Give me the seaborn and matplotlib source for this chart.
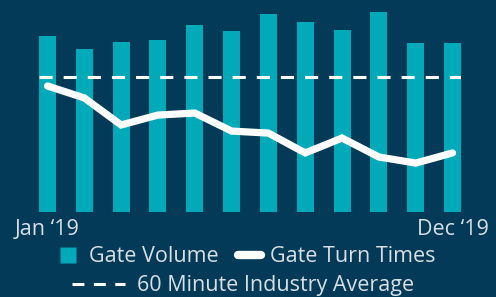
import matplotlib
matplotlib.use("Agg")
import matplotlib.pyplot as plt
from matplotlib.lines import Line2D
import seaborn as sns
import pandas as pd

months = ["Jan", "Feb", "Mar", "Apr", "May", "Jun",
          "Jul", "Aug", "Sep", "Oct", "Nov", "Dec"]
gate_volume = [78.1, 72.3, 75.4, 76.3, 82.9, 80.3, 87.8, 84.3, 80.7, 88.7, 75.0, 75.0]
gate_turn_times = [55.9, 50.6, 38.6, 43.0, 43.9, 35.9, 35.0, 26.2, 32.8, 24.4, 21.7, 26.2]
industry_average = 60
tick_labels = ["Jan \u201819", "Dec \u201819"]

BG = "#023a57"
BAR = "#00aab8"
TXT = "#d8e0e5"
FS = 15.5

sns.set_theme(style="white")
plt.rcParams["font.family"] = ["Open Sans", "DejaVu Sans"]

df = pd.DataFrame({"month": months, "volume": gate_volume, "turn": gate_turn_times})

fig = plt.figure(figsize=(4.96, 2.97), dpi=100)
fig.patch.set_facecolor(BG)
ax = fig.add_axes([39 / 496, 85 / 297, 422 / 496, 202 / 297])
ax.set_facecolor(BG)

sns.barplot(data=df, x="month", y="volume", color=BAR, width=0.46,
            saturation=1, ax=ax, zorder=1, edgecolor="none", linewidth=0)
xs = list(range(len(months)))
sns.lineplot(x=xs, y=gate_turn_times, color="white", linewidth=5.2,
             ax=ax, zorder=3, solid_capstyle="round", solid_joinstyle="miter")
ax.axhline(industry_average, color="white", linewidth=2.2,
           dashes=(4.3, 3.6), zorder=2)

ax.set_xlim(-0.23, 11.23)
ax.set_ylim(0, 89.6)
for s in ax.spines.values():
    s.set_visible(False)
ax.set_yticks([])
ax.set_xticks([0, 11])
ax.set_xticklabels(tick_labels, color=TXT, fontsize=FS)
ax.tick_params(axis="x", length=0, pad=5)
ax.set_xlabel("")
ax.set_ylabel("")

h1 = [Line2D([], [], linestyle="none", marker="s", markersize=12.2,
             markerfacecolor=BAR, markeredgecolor="none"),
      Line2D([], [], color="white", linewidth=6, solid_capstyle="round")]
leg1 = fig.legend(h1, ["Gate Volume", "Gate Turn Times"], ncol=2,
                  loc="center", bbox_to_anchor=(246 / 496, 1 - 257 / 297),
                  frameon=False, fontsize=FS, labelcolor=TXT,
                  handlelength=1.1, handletextpad=0.4,
                  columnspacing=0.9, borderpad=0, borderaxespad=0)
h2 = [Line2D([], [], color="white", linewidth=2.2, dashes=(3.9, 3.1))]
leg2 = fig.legend(h2, ["60 Minute Industry Average"], loc="center",
                  bbox_to_anchor=(243 / 496, 1 - 286 / 297), frameon=False,
                  fontsize=FS, labelcolor=TXT,
                  handlelength=2.5, handletextpad=0.55,
                  borderpad=0, borderaxespad=0)

fig.savefig("out.png", dpi=100, facecolor=BG)
